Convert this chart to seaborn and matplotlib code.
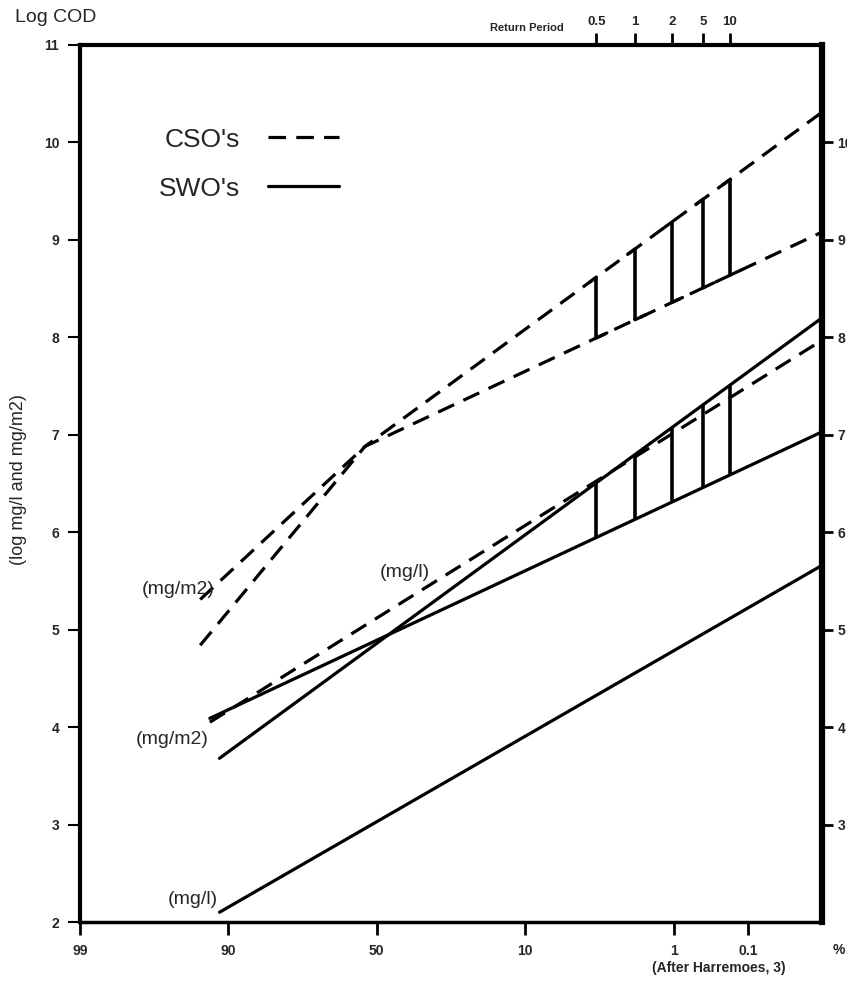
import numpy as np
import pandas as pd
import matplotlib
matplotlib.use("Agg")
import matplotlib.pyplot as plt
import seaborn as sns
from matplotlib.lines import Line2D

sns.set_theme(style="white")
plt.rcParams['font.family'] = ['Liberation Sans', 'DejaVu Sans']

# ---- axis definitions (probability-paper positions: 0 = 99 %, 5 = right edge) ----
x_tick_pos = [0, 1, 2, 3, 4, 4.5]
x_tick_labels = ['99', '90', '50', '10', '1', '0.1']
rp_pos = [3.48, 3.74, 3.99, 4.20, 4.38]
rp_labels = ['0.5', '1', '2', '5', '10']
y_ticks = [2, 3, 4, 5, 6, 7, 8, 9, 10, 11]
y_ticks_right = [3, 4, 5, 6, 7, 8, 9, 10]

# ---- SWO lines (solid) ----
swo_mgl_x = [0.94, 5.0]
swo_mgl_y = [2.10, 5.66]
swo_mgm2_steep_x = [0.94, 5.0]
swo_mgm2_steep_y = [3.68, 8.20]
swo_mgm2_flat_x = [0.875, 5.0]
swo_mgm2_flat_y = [4.09, 7.03]

# ---- CSO lines (dashed) ----
cso_low_x = [0.875, 5.0]
cso_low_y = [4.05, 7.97]
cso_up_flat_x = [0.81, 1.92, 5.0]
cso_up_flat_y = [5.31, 6.88, 9.08]
cso_up_steep_x = [0.81, 1.92, 5.0]
cso_up_steep_y = [4.84, 6.88, 10.31]

fig = plt.figure(figsize=(8.47, 9.89), dpi=100)
ax = fig.add_axes([80/847, 67/989, 742/847, 877/989])

lw = 2.3
dash = (0, (5.5, 3.2))

def line(x, y, ls='-'):
    df = pd.DataFrame({'x': x, 'y': y})
    sns.lineplot(data=df, x='x', y='y', ax=ax, color='black', lw=lw,
                 linestyle=ls, sort=False, estimator=None)

line(swo_mgl_x, swo_mgl_y)
line(swo_mgm2_steep_x, swo_mgm2_steep_y)
line(swo_mgm2_flat_x, swo_mgm2_flat_y)
line(cso_low_x, cso_low_y, dash)
line(cso_up_flat_x, cso_up_flat_y, dash)
line(cso_up_steep_x, cso_up_steep_y, dash)

# vertical bars at return periods
lo = np.interp(rp_pos, swo_mgm2_flat_x, swo_mgm2_flat_y)
hi = np.interp(rp_pos, swo_mgm2_steep_x, swo_mgm2_steep_y)
ax.vlines(rp_pos, lo, hi, color='black', lw=2.6)
lo2 = np.interp(rp_pos, cso_up_flat_x, cso_up_flat_y)
hi2 = np.interp(rp_pos, cso_up_steep_x, cso_up_steep_y)
ax.vlines(rp_pos, lo2, hi2, color='black', lw=2.6)
for p in rp_pos:
    xs = [p, p + 0.07]
    ax.plot(xs, np.interp(xs, cso_up_flat_x, cso_up_flat_y), color='black', lw=lw)
    xs = [p - 0.05, p]
    ax.plot(xs, np.interp(xs, cso_up_steep_x, cso_up_steep_y), color='black', lw=lw)

ax.set_xlim(0, 5)
ax.set_ylim(2, 11)
ax.set_xlabel('')
ax.set_ylabel('')

ax.set_xticks(x_tick_pos)
ax.set_xticklabels(x_tick_labels, fontsize=10, fontweight='bold')
ax.set_yticks(y_ticks)
ax.set_yticklabels([str(v) for v in y_ticks], fontsize=10, fontweight='bold')
ax.tick_params(axis='x', direction='out', length=9, width=2, color='black', pad=7, bottom=True)
ax.tick_params(axis='y', direction='out', length=9, width=1.5, color='black', pad=6, left=True)

for side, w in [('left', 3), ('right', 4.5), ('top', 3), ('bottom', 2.5)]:
    ax.spines[side].set_visible(True)
    ax.spines[side].set_color('black')
    ax.spines[side].set_linewidth(w)

axr = ax.twinx()
axr.set_ylim(2, 11)
axr.set_yticks(y_ticks_right)
axr.set_yticklabels([str(v) for v in y_ticks_right], fontsize=10, fontweight='bold')
axr.tick_params(axis='y', direction='out', length=8, width=2, color='black', pad=3, right=True)
for s in axr.spines.values():
    s.set_visible(False)
axr.grid(False)

top = ax.secondary_xaxis('top')
top.set_xticks(rp_pos)
top.set_xticklabels(rp_labels, fontsize=9.5, fontweight='bold')
top.tick_params(direction='out', length=9, width=2, color='black', pad=3)
top.spines['top'].set_visible(False)

ax.text(0.602, 1.019, 'Return Period', transform=ax.transAxes, ha='center',
        va='center', fontsize=8, fontweight='bold')
ax.text(1.022, -0.032, '%', transform=ax.transAxes, ha='center', va='center',
        fontsize=10, fontweight='bold')

# legend
handles = [Line2D([], [], color='black', lw=lw, linestyle=dash),
           Line2D([], [], color='black', lw=lw)]
leg = ax.legend(handles, ["CSO's", "SWO's"], loc='upper left',
                bbox_to_anchor=(0.074, 0.933), frameon=False, markerfirst=False,
                handlelength=2.7, handletextpad=1.05, labelspacing=0.95,
                prop={'size': 19})

# annotations
ax.text(0.66, 5.41, '(mg/m2)', ha='center', va='center', fontsize=14)
ax.text(2.19, 5.59, '(mg/l)', ha='center', va='center', fontsize=14)
ax.text(0.62, 3.87, '(mg/m2)', ha='center', va='center', fontsize=14)
ax.text(0.76, 2.23, '(mg/l)', ha='center', va='center', fontsize=14)

fig.text(15/847, 1 - 18/989, 'Log COD', ha='left', va='center', fontsize=14)
fig.text(19/847, 1 - 480/989, '(log mg/l and mg/m2)', ha='center', va='center',
         rotation=90, fontsize=13)
fig.text(719/847, 1 - 968/989, '(After Harremoes, 3)', ha='center', va='center',
         fontsize=10, fontweight='bold')

fig.savefig('out.png', dpi=100)
